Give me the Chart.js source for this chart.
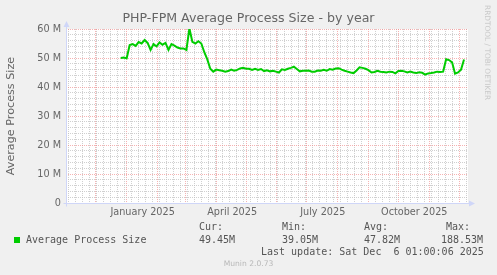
<!DOCTYPE html>
<html>
<head>
<meta charset="utf-8">
<script src="https://cdn.jsdelivr.net/npm/chart.js@4.4.1/dist/chart.umd.min.js"></script>
<style>
  body { margin: 0; background: #f0f0f0; }
  #wrap { position: relative; width: 497px; height: 275px; overflow: hidden; }
  canvas { position: absolute; left: 0; top: 0; }
  .t { position: absolute; font: 10px "DejaVu Sans Mono", monospace; color: #555; white-space: pre; line-height: 12px; }
  .sw { position: absolute; left: 14px; top: 237px; width: 6px; height: 6px; background: #00cc00; }
  .rrd { position: absolute; left: 492px; top: 5px; font: 7.4px "DejaVu Sans", sans-serif; line-height: 9px; color: #c8c8c8; white-space: pre; transform: rotate(90deg); transform-origin: 0 0; }
  .munin { position: absolute; left: 0; width: 497px; top: 259px; text-align: center; font: 7.6px "DejaVu Sans", sans-serif; line-height: 10px; color: #b8b8b8; }
</style>
</head>
<body>
<div id="wrap">
  <canvas id="chart" width="497" height="275"></canvas>
  <div class="rrd">RRDTOOL / TOBI OETIKER</div>
  <div class="t" style="left:199px; top:221px">Cur:</div>
  <div class="t" style="left:282px; top:221px">Min:</div>
  <div class="t" style="left:364px; top:221px">Avg:</div>
  <div class="t" style="left:446px; top:221px">Max:</div>
  <div class="sw"></div>
  <div class="t" style="left:26px; top:234px">Average Process Size</div>
  <div class="t" style="left:199px; top:234px">49.45M</div>
  <div class="t" style="left:282px; top:234px">39.05M</div>
  <div class="t" style="left:364px; top:234px">47.82M</div>
  <div class="t" style="left:441px; top:234px">188.53M</div>
  <div class="t" style="left:261px; top:246px">Last update: Sat Dec  6 01:00:06 2025</div>
  <div class="munin">Munin 2.0.73</div>
</div>
<script>
// time axis runs from Nov 1 2024 to Dec 10 2025, counted in days
const axisStart = '2024-11-01';
const axisEnd = '2025-12-10';

// month boundaries (red grid) and the quarterly labels
const monthStarts = ['2024-11-01', '2024-12-01', '2025-01-01', '2025-02-01', '2025-03-01', '2025-04-01',
  '2025-05-01', '2025-06-01', '2025-07-01', '2025-08-01', '2025-09-01', '2025-10-01', '2025-11-01', '2025-12-01'];
const labelMonths = ['2025-01-01', '2025-04-01', '2025-07-01', '2025-10-01'];
const labelTexts = ['January 2025', 'April 2025', 'July 2025', 'October 2025'];

// average process size in MB, one sample every 3 days from Dec 26 2024
const firstSample = '2024-12-26';
const sampleStep = 3;
const avgSize = [
  50.0, 50.2, 49.9, 54.5, 54.8, 54.2, 55.5, 55.0, 56.2, 55.2,
  52.8, 54.8, 54.0, 55.4, 54.6, 55.2, 52.8, 54.8, 54.3, 53.6,
  53.3, 53.3, 52.8, 60.2, 55.6, 55.0, 55.8, 55.0, 52.0, 49.5,
  46.3, 45.3, 46.0, 45.8, 45.6, 45.3, 45.5, 46.0, 45.6, 45.9,
  46.4, 46.6, 46.3, 46.3, 45.9, 46.3, 45.9, 46.2, 45.5, 45.8,
  45.4, 45.6, 45.3, 45.0, 46.1, 45.9, 46.3, 46.6, 47.0, 46.2,
  45.4, 45.6, 45.6, 45.7, 45.3, 45.3, 45.7, 45.6, 45.9, 45.6,
  46.2, 46.0, 46.4, 46.5, 46.0, 45.6, 45.3, 45.0, 44.8, 45.7,
  46.8, 46.6, 46.3, 45.8, 45.0, 45.2, 45.6, 45.3, 45.2, 45.0,
  45.3, 45.2, 44.7, 45.5, 45.6, 45.4, 45.0, 45.3, 45.0, 44.8,
  45.1, 44.9, 44.3, 44.7, 44.8, 45.0, 45.3, 45.2, 45.3, 49.6,
  49.3, 48.5, 44.6, 45.0, 46.0, 49.5
];

const yMax = 60;
const yMajor = 10;
const yMinor = 2;

const majorGrid = 'rgba(240,128,128,0.6)';
const minorGrid = 'rgba(192,192,192,0.75)';
const axisColor = '#cfd6f8';
const fontColor = '#666';

function dayOf(s) {
  return (Date.parse(s) - Date.parse(axisStart)) / 86400000;
}

const start0 = dayOf(firstSample);
const points = avgSize.map((v, i) => ({ x: start0 + i * sampleStep, y: v }));

// x ticks: weekly minor lines, monthly major lines, labels mid month
const xTicks = [];
const tickKind = {};
const tickText = {};
for (let d = dayOf('2024-11-04'); d <= dayOf(axisEnd); d += 7) tickKind[d] = 'minor';
monthStarts.forEach(m => { tickKind[dayOf(m)] = 'major'; });
labelMonths.forEach((m, i) => {
  const d = dayOf(m) + 16;
  tickKind[d] = 'label';
  tickText[d] = labelTexts[i];
});
Object.keys(tickKind).map(Number).sort((a, b) => a - b).forEach(v => xTicks.push({ value: v }));

const yTicks = [];
for (let v = 0; v <= yMax; v += yMinor) yTicks.push({ value: v });

const canvasBg = {
  id: 'canvasBg',
  beforeDraw(chart) {
    const { ctx, chartArea: a } = chart;
    ctx.save();
    ctx.fillStyle = '#ffffff';
    ctx.fillRect(a.left, a.top, a.right - a.left, a.bottom - a.top);
    ctx.restore();
  },
  afterDraw(chart) {
    const { ctx, chartArea: a } = chart;
    const x0 = Math.round(a.left) + 0.5;
    const y0 = Math.round(a.bottom) + 0.5;
    ctx.save();
    ctx.strokeStyle = axisColor;
    ctx.fillStyle = axisColor;
    ctx.lineWidth = 1;
    ctx.beginPath();
    ctx.moveTo(x0, y0 + 3);
    ctx.lineTo(x0, a.top - 3);
    ctx.moveTo(x0 - 3, y0);
    ctx.lineTo(a.right + 1, y0);
    ctx.stroke();
    ctx.beginPath();
    ctx.moveTo(x0 - 3, a.top - 2);
    ctx.lineTo(x0 + 3, a.top - 2);
    ctx.lineTo(x0, a.top - 8);
    ctx.closePath();
    ctx.fill();
    ctx.beginPath();
    ctx.moveTo(a.right + 1, y0 - 3);
    ctx.lineTo(a.right + 1, y0 + 3);
    ctx.lineTo(a.right + 7, y0);
    ctx.closePath();
    ctx.fill();
    ctx.restore();
  }
};

new Chart(document.getElementById('chart'), {
  type: 'line',
  data: {
    datasets: [{
      label: 'Average Process Size',
      data: points,
      borderColor: '#00cc00',
      borderWidth: 2,
      pointRadius: 0,
      tension: 0,
      fill: false
    }]
  },
  options: {
    responsive: false,
    animation: false,
    events: [],
    layout: { padding: 0 },
    plugins: {
      legend: { display: false },
      tooltip: { enabled: false },
      title: {
        display: true,
        text: 'PHP-FPM Average Process Size - by year',
        color: fontColor,
        font: { family: 'DejaVu Sans', size: 12.6, weight: 'normal' },
        padding: { top: 11.4, bottom: 2.5 }
      }
    },
    scales: {
      x: {
        type: 'linear',
        min: 0,
        max: dayOf(axisEnd),
        afterBuildTicks: s => { s.ticks = xTicks.map(t => ({ value: t.value })); },
        afterFit: s => { s.height = 72; },
        grid: {
          drawTicks: false,
          color: c => {
            const k = tickKind[c.tick.value];
            return k === 'major' ? majorGrid : k === 'minor' ? minorGrid : 'rgba(0,0,0,0)';
          }
        },
        border: { display: false, dash: [1, 1] },
        ticks: {
          autoSkip: false,
          maxRotation: 0,
          padding: 4,
          color: fontColor,
          font: { family: 'DejaVu Sans', size: 9.7 },
          callback: v => tickText[v] || ''
        }
      },
      y: {
        min: 0,
        max: yMax,
        afterBuildTicks: s => { s.ticks = yTicks.map(t => ({ value: t.value })); },
        afterFit: s => { s.width = 66; },
        grid: {
          drawTicks: false,
          color: c => (c.tick.value % yMajor === 0 ? majorGrid : minorGrid)
        },
        border: { display: false, dash: [1, 1] },
        ticks: {
          autoSkip: false,
          padding: 5,
          color: fontColor,
          font: { family: 'DejaVu Sans', size: 9.7 },
          callback: v => (v % yMajor === 0 ? (v === 0 ? '0' : v + ' M') : '')
        },
        title: {
          display: true,
          text: 'Average Process Size',
          color: fontColor,
          font: { family: 'DejaVu Sans', size: 11.2 },
          padding: { top: 4, bottom: 0 }
        }
      },
      // empty right-hand strip so the plot stops where the rrdtool canvas does
      yRight: {
        position: 'right',
        min: 0,
        max: yMax,
        afterFit: s => { s.width = 29; },
        grid: { drawOnChartArea: false, drawTicks: false },
        border: { display: false },
        ticks: { display: false }
      }
    }
  },
  plugins: [canvasBg]
});
</script>
</body>
</html>
